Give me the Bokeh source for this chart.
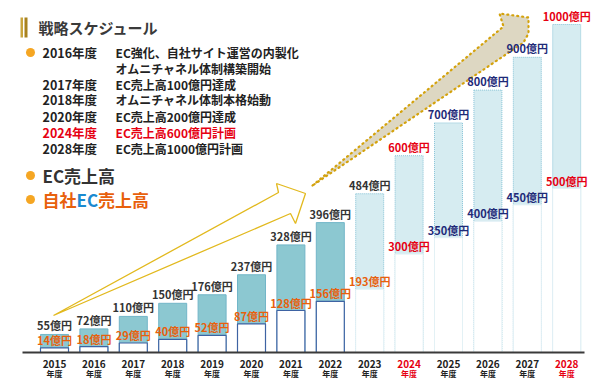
from bokeh.plotting import figure
from bokeh.models import Range1d, ColumnDataSource
from bokeh.core.properties import value
from bokeh.embed import file_html
from bokeh.resources import INLINE

# ---------------- data ----------------
years = ["2015", "2016", "2017", "2018", "2019", "2020", "2021",
         "2022", "2023", "2024", "2025", "2026", "2027", "2028"]
total_sales = [55, 72, 110, 150, 176, 237, 328, 396, 484, 600, 700, 800, 900, 1000]
own_sales = [14, 18, 29, 40, 52, 87, 128, 156, 193, 300, 350, 400, 450, 500]
n_actual = 8  # 2015-2022 are actual results, the rest are plans

schedule_years = ["2016年度", "", "2017年度", "2018年度", "2020年度", "2024年度", "2028年度"]
schedule_items = ["EC強化、自社サイト運営の内製化", "オムニチャネル体制構築開始",
                  "EC売上高100億円達成", "オムニチャネル体制本格始動",
                  "EC売上高200億円達成", "EC売上高600億円計画", "EC売上高1000億円計画"]
highlight_years = {"2024", "2028"}

# ---------------- styles ----------------
FONT = value("Noto Sans CJK JP")
DARK = "#333333"
RED = "#e60012"
NAVY = "#1e2a78"
ORANGE = "#e8600c"
BLUE = "#1a8ad0"

W, H = 600, 378
STEP = 39.4          # px per category
SCALE = 0.328        # px per 億円
X0_PX, BASE_PX = 54, 352   # pixel of first bar centre / baseline


def X(px):
    return (px - X0_PX) / STEP


def Y(py):
    return (BASE_PX - py) / SCALE


p = figure(width=W, height=H, output_backend="svg", toolbar_location=None,
           x_axis_type=None, y_axis_type=None, min_border=0,
           x_range=Range1d(X(0), X(W)), y_range=Range1d(Y(H), Y(0)),
           outline_line_color=None, background_fill_color="white")
p.grid.visible = False

idx = list(range(len(years)))
bw = 28 / STEP


def lab_color_total(i):
    y = years[i]
    if y in highlight_years:
        return RED
    if i <= 8:
        return DARK
    return NAVY


def lab_color_own(i):
    y = years[i]
    if y in highlight_years:
        return RED
    if i <= 8:
        return ORANGE
    return NAVY


act = ColumnDataSource(dict(x=idx[:n_actual], top=total_sales[:n_actual], own=own_sales[:n_actual]))
plan = ColumnDataSource(dict(x=idx[n_actual:], top=total_sales[n_actual:], own=own_sales[n_actual:]))

# ---------------- arrows (decoration) ----------------
arrow2_x = [X(312), X(503), X(499), X(528), X(528), X(523)]
arrow2_y = [Y(185), Y(26), Y(13), Y(17), Y(33), Y(42)]
p.patch(arrow2_x, arrow2_y, fill_color="#ddd7c2", line_color="#d4a20c",
        line_width=2.2, line_dash="1 4", line_cap="round")

arrow1_x = [X(53), X(278), X(276), X(305), X(295), X(290)]
arrow1_y = [Y(315), Y(192), Y(183), Y(193), Y(223), Y(213)]
p.patch(arrow1_x, arrow1_y, fill_color=None, line_color="#e2b91e", line_width=1.3)

# ---------------- bars ----------------
p.vbar(x="x", top="top", bottom=0, width=bw, source=act,
       fill_color="#8cc8d1", line_color="#72b6c8", line_width=1)
p.vbar(x="x", top="own", bottom=0, width=bw, source=act,
       fill_color="white", line_color="#3e63a3", line_width=1.2)

p.vbar(x="x", top="top", bottom=0, width=bw, source=plan,
       fill_color="#d6ecf1", line_color="#86c3d6", line_width=1, line_dash="1 1")
p.vbar(x="x", top="own", bottom=0, width=bw, source=plan,
       fill_color="white", line_color="#e3f1f5", line_width=1)

# baseline
p.line([X(22), X(584)], [0, 0], line_color="#3a3a3a", line_width=2)

# ---------------- value labels ----------------
p.text(x=idx, y=total_sales, text=[f"{v}億円" for v in total_sales],
       text_color=[lab_color_total(i) for i in idx], text_font=FONT,
       text_font_style="bold", text_font_size="11px", text_align="center",
       text_baseline="middle", y_offset=-9)
p.text(x=idx, y=own_sales, text=[f"{v}億円" for v in own_sales],
       text_color=[lab_color_own(i) for i in idx], text_font=FONT,
       text_font_style="bold", text_font_size="11px", text_align="center",
       text_baseline="middle", y_offset=-8)

# x labels
ycol = [RED if y in highlight_years else "#222222" for y in years]
p.text(x=idx, y=[0] * len(idx), text=years, text_color=ycol, text_font=FONT,
       text_font_style="bold", text_font_size="10px", text_align="center",
       text_baseline="middle", y_offset=11)
p.text(x=idx, y=[0] * len(idx), text=["年度"] * len(idx), text_color=ycol, text_font=FONT,
       text_font_style="bold", text_font_size="8px", text_align="center",
       text_baseline="middle", y_offset=21)

# ---------------- title & schedule ----------------
p.quad(left=[X(20), X(24)], right=[X(22.5), X(27)], bottom=[Y(37), Y(37)], top=[Y(17), Y(17)],
       fill_color=["#c9a53c", "#a8821e"], line_color=None)
p.text(x=[X(38)], y=[Y(27)], text=["戦略スケジュール"], text_color="#3a3a3a", text_font=FONT,
       text_font_style="bold", text_font_size="15px", text_baseline="middle")

row_px = [52, 68, 84, 99, 116, 132, 148]
row_col = [RED if "2024" in s else "#222222" for s in schedule_years]
p.text(x=[X(42)] * len(row_px), y=[Y(v) for v in row_px], text=schedule_years,
       text_color=row_col, text_font=FONT, text_font_style="bold",
       text_font_size="12.5px", text_baseline="middle")
p.text(x=[X(115)] * len(row_px), y=[Y(v) for v in row_px], text=schedule_items,
       text_color=row_col, text_font=FONT, text_font_style="bold",
       text_font_size="12px", text_baseline="middle")

# bullets
p.scatter(x=[X(30)] * 3, y=[Y(52), Y(175), Y(199)], size=9, marker="circle",
          fill_color="#f5a623", line_color=None)

# legend texts
p.text(x=[X(42)], y=[Y(175)], text=["EC売上高"], text_color=DARK, text_font=FONT,
       text_font_style="bold", text_font_size="17px", text_baseline="middle")
p.text(x=[X(42), X(76), X(97.5)], y=[Y(199)] * 3, text=["自社", "EC", "売上高"],
       text_color=[ORANGE, BLUE, ORANGE], text_font=FONT,
       text_font_style="bold", text_font_size="17px", text_baseline="middle")

open("out.html", "w").write(file_html(p, INLINE))
